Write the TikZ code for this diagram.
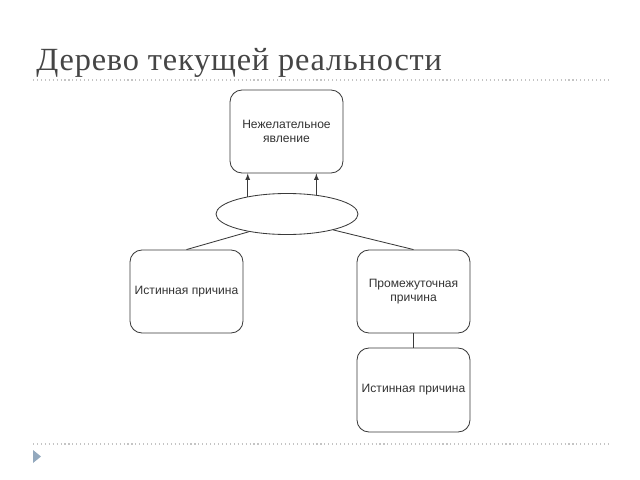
\documentclass[tikz,border=0pt]{standalone}
\usepackage{fontspec}
\setmainfont{Liberation Serif}
\newfontfamily\boxfont{Liberation Sans}
\newfontfamily\headfont[LetterSpace=2.5]{Liberation Serif}
\usetikzlibrary{shapes.geometric}
\usetikzlibrary{arrows}

\definecolor{titlegray}{HTML}{454545}
\definecolor{rulegray}{HTML}{C4C4C4}
\definecolor{markblue}{HTML}{93A9BE}
\definecolor{linegray}{HTML}{3A3A3A}

\begin{document}
\begin{tikzpicture}
[x=0.025cm,y=-0.025cm,%
  line width=0.6pt,draw=linegray,%
  causebox/.style={shape=rectangle,rounded corners=0.3cm,draw=linegray,
    inner sep=2pt,minimum width=2.825cm,minimum height=2.075cm,align=center,
    text=black!80,font=\boxfont\fontsize{8.6}{9.5}\selectfont},%
  knot/.style={shape=ellipse,draw=linegray,minimum width=3.55cm,
    minimum height=1.025cm,inner sep=0pt}]
\useasboundingbox (0,0) rectangle (640,480);
% heading and page rules
\node[anchor=base west,inner sep=0pt,text=titlegray,font=\headfont\fontsize{23}{26}\selectfont]
  (title) at (36,70) {Дерево текущей реальности};
\draw[rulegray,dotted,line width=0.8pt] (33,80) -- (608,80);
\draw[rulegray,dotted,line width=0.8pt] (33,444) -- (608,444);
\fill[markblue] (33,450) -- (41,456.5) -- (33,463) -- cycle;
% tree
\node[causebox] (effect) at (286.5,131.5) {Нежелательное\\явление};
\node[knot] (and) at (287,214) {};
\node[causebox] (root1) at (186.5,291.5) {Истинная причина};
\node[causebox] (inter) at (413.5,291.5) {Промежуточная\\причина};
\node[causebox,minimum height=2.1cm] (root2) at (413.5,390) {Истинная причина};
\draw[-latex] (and.156) -- (and.156 |- effect.south);
\draw[-latex] (and.33) -- (and.33 |- effect.south);
\draw (and.205) -- (root1.north);
\draw (and.341) -- (inter.north);
\draw (inter.south) -- (root2.north);
\end{tikzpicture}
\end{document}
